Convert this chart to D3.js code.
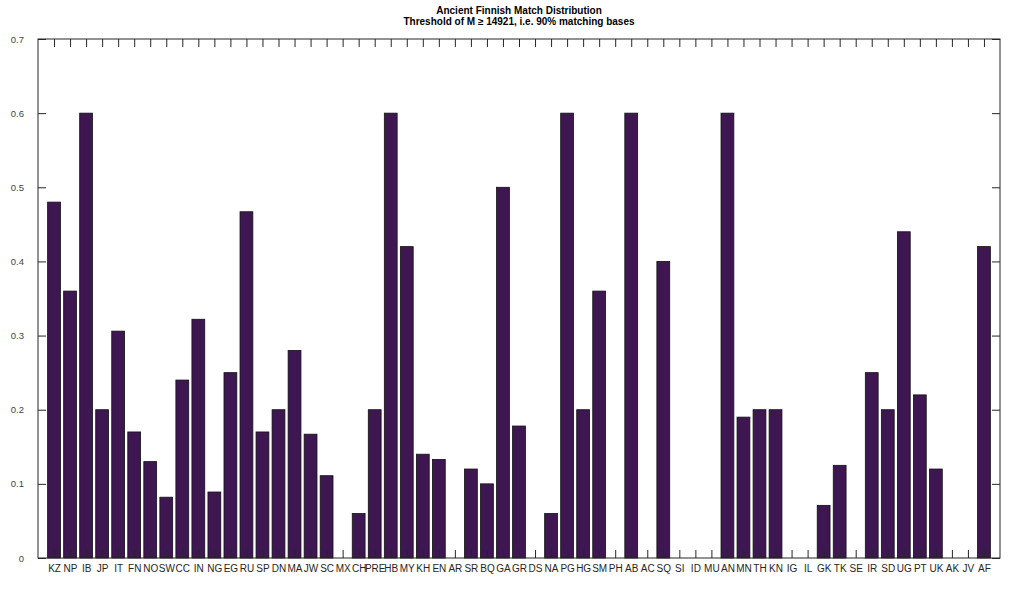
<!DOCTYPE html>
<html>
<head>
<meta charset="utf-8">
<script src="https://cdn.jsdelivr.net/npm/d3@7"></script>
<style>
  body { margin: 0; background: #fff; }
  svg { display: block; font-family: "Liberation Sans", Arial, sans-serif; }
</style>
</head>
<body>
<svg id="chart"></svg>
<script>
const categories = ['KZ', 'NP', 'IB', 'JP', 'IT', 'FN', 'NO', 'SW', 'CC', 'IN', 'NG', 'EG', 'RU', 'SP', 'DN',
  'MA', 'JW', 'SC', 'MX', 'CH', 'PRE', 'HB', 'MY', 'KH', 'EN', 'AR', 'SR', 'BQ', 'GA', 'GR', 'DS', 'NA',
  'PG', 'HG', 'SM', 'PH', 'AB', 'AC', 'SQ', 'SI', 'ID', 'MU', 'AN', 'MN', 'TH', 'KN', 'IG', 'IL', 'GK',
  'TK', 'SE', 'IR', 'SD', 'UG', 'PT', 'UK', 'AK', 'JV', 'AF'];

const values = [0.48, 0.36, 0.6, 0.2, 0.306, 0.17, 0.13, 0.082, 0.24, 0.322, 0.089, 0.25, 0.467, 0.17, 0.2,
  0.28, 0.167, 0.111, 0, 0.06, 0.2, 0.6, 0.42, 0.14, 0.133, 0, 0.12, 0.1, 0.5, 0.178, 0, 0.06,
  0.6, 0.2, 0.36, 0, 0.6, 0, 0.4, 0, 0, 0, 0.6, 0.19, 0.2, 0.2, 0, 0, 0.071,
  0.125, 0, 0.25, 0.2, 0.44, 0.22, 0.12, 0, 0, 0.42];

const yTicks = [0, 0.1, 0.2, 0.3, 0.4, 0.5, 0.6, 0.7];

const titleLines = ['Ancient Finnish Match Distribution', 'Threshold of M \u2265 14921, i.e. 90% matching bases'];

const data = categories.map((c, i) => ({ name: c, idx: i + 1, value: values[i] }));

const width = 1023;
const height = 594;
const margin = { top: 39, right: 23, bottom: 36, left: 38 };

const svg = d3.select('#chart')
  .attr('width', width)
  .attr('height', height);

const x = d3.scaleLinear()
  .domain([0, categories.length + 1])
  .range([margin.left, width - margin.right]);

const y = d3.scaleLinear()
  .domain([0, 0.7])
  .range([height - margin.bottom, margin.top]);

const barW = x(0.8) - x(0);

// bars
svg.append('g')
  .selectAll('rect')
  .data(data)
  .join('rect')
  .attr('x', d => x(d.idx) - barW / 2)
  .attr('y', d => y(d.value))
  .attr('width', barW)
  .attr('height', d => y(0) - y(d.value))
  .attr('fill', '#3e1752')
  .attr('stroke', '#111')
  .attr('stroke-width', 0.8);

const axisColor = '#262626';
const tickLen = 8;

// left axis with inward ticks
const leftAxis = svg.append('g')
  .attr('transform', `translate(${margin.left},0)`)
  .call(d3.axisLeft(y).tickValues(yTicks).tickFormat(d3.format('')).tickSizeInner(-tickLen).tickSizeOuter(0).tickPadding(6 + tickLen));

// right axis ticks
const rightAxis = svg.append('g')
  .attr('transform', `translate(${width - margin.right},0)`)
  .call(d3.axisRight(y).tickValues(yTicks).tickFormat('').tickSizeInner(-tickLen).tickSizeOuter(0));

// bottom axis
const bottomAxis = svg.append('g')
  .attr('transform', `translate(0,${height - margin.bottom})`)
  .call(d3.axisBottom(x).tickValues(data.map(d => d.idx)).tickFormat((d, i) => categories[i])
    .tickSizeInner(-tickLen).tickSizeOuter(0).tickPadding(7));

// top axis ticks
const topAxis = svg.append('g')
  .attr('transform', `translate(0,${margin.top})`)
  .call(d3.axisTop(x).tickValues(data.map(d => d.idx)).tickFormat('').tickSizeInner(-tickLen).tickSizeOuter(0));

[leftAxis, rightAxis, bottomAxis, topAxis].forEach(g => {
  g.select('.domain').remove();
  g.selectAll('.tick line').attr('stroke', axisColor).attr('stroke-width', 1);
  g.selectAll('.tick text').attr('fill', axisColor).attr('font-size', '10px')
    .attr('font-family', '"Liberation Sans", Arial, sans-serif');
});
leftAxis.selectAll('.tick text').attr('font-size', '9.5px').attr('fill', '#444');

// box
svg.append('rect')
  .attr('x', margin.left)
  .attr('y', margin.top)
  .attr('width', width - margin.left - margin.right)
  .attr('height', height - margin.top - margin.bottom)
  .attr('fill', 'none')
  .attr('stroke', axisColor)
  .attr('stroke-width', 1);

// title
svg.append('g')
  .selectAll('text')
  .data(titleLines)
  .join('text')
  .attr('x', x(30))
  .attr('y', (d, i) => 14 + i * 11)
  .attr('text-anchor', 'middle')
  .attr('font-size', '10px')
  .attr('font-weight', 'bold')
  .attr('fill', '#000')
  .text(d => d);
</script>
</body>
</html>
